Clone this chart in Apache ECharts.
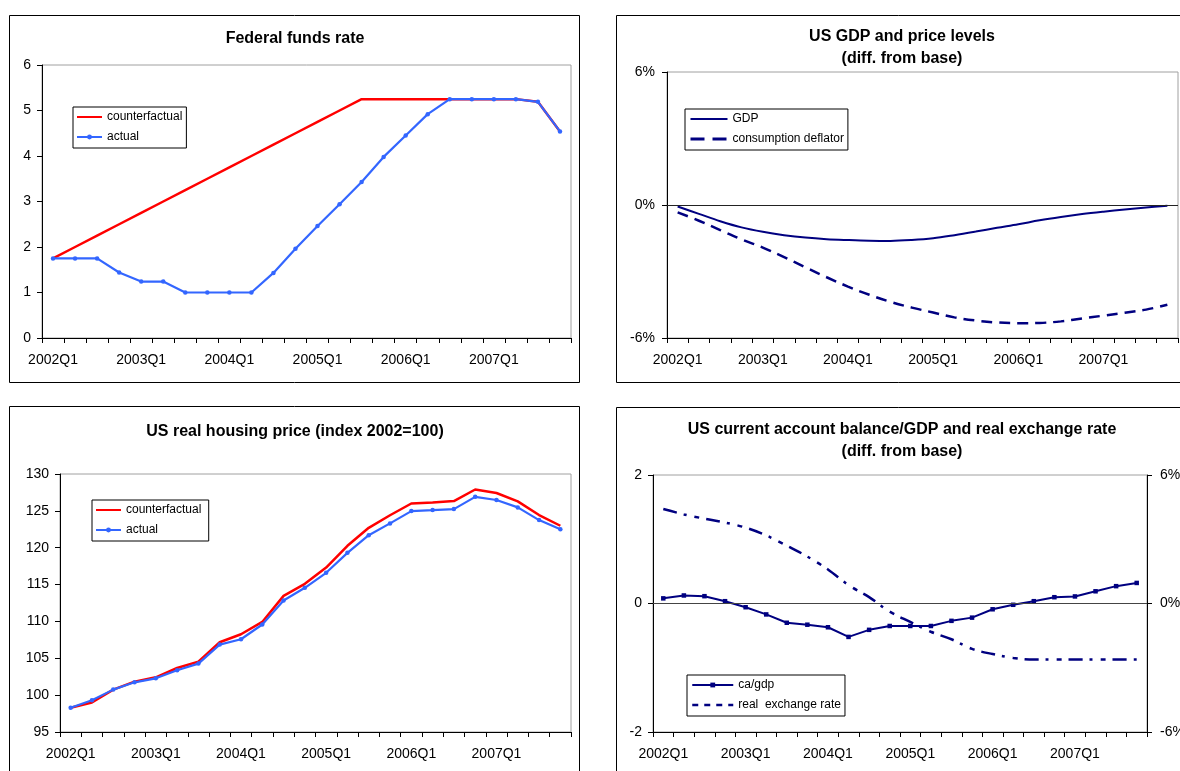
<!DOCTYPE html>
<html>
<head>
<meta charset="utf-8">
<script src="https://cdn.jsdelivr.net/npm/echarts@6/dist/echarts.min.js"></script>
<style>html,body{margin:0;padding:0;background:#fff}#c{width:1180px;height:771px}</style>
</head>
<body>
<div id="c"></div>
<script>
// ---------- data ----------
const quarters = ['2002Q1','2002Q2','2002Q3','2002Q4','2003Q1','2003Q2','2003Q3','2003Q4',
  '2004Q1','2004Q2','2004Q3','2004Q4','2005Q1','2005Q2','2005Q3','2005Q4',
  '2006Q1','2006Q2','2006Q3','2006Q4','2007Q1','2007Q2','2007Q3','2007Q4'];

const fedCounterfactual = [1.75,2.0,2.25,2.5,2.75,3.0,3.25,3.5,3.75,4.0,4.25,4.5,4.75,5.0,5.25,5.25,5.25,5.25,5.25,5.25,5.25,5.25,5.19,4.54];
const fedActual = [1.75,1.75,1.75,1.44,1.24,1.24,1.0,1.0,1.0,1.0,1.43,1.96,2.46,2.94,3.43,3.98,4.45,4.92,5.25,5.25,5.25,5.25,5.19,4.54];

const gdpDiff = [-0.07,-0.40,-0.73,-1.01,-1.21,-1.36,-1.47,-1.54,-1.58,-1.61,-1.62,-1.58,-1.50,-1.36,-1.20,-1.03,-0.87,-0.69,-0.54,-0.41,-0.30,-0.20,-0.11,-0.03];
const deflatorDiff = [-0.33,-0.71,-1.13,-1.55,-1.92,-2.35,-2.81,-3.26,-3.68,-4.05,-4.37,-4.63,-4.85,-5.07,-5.21,-5.30,-5.33,-5.32,-5.25,-5.12,-4.99,-4.86,-4.72,-4.50];

const houseCounterfactual = [98.3,99.0,100.75,101.83,102.42,103.68,104.55,107.17,108.26,109.93,113.47,115.1,117.3,120.26,122.7,124.4,126.0,126.15,126.33,127.9,127.42,126.28,124.43,122.98];
const houseActual = [98.3,99.3,100.75,101.74,102.28,103.37,104.28,106.86,107.58,109.58,112.84,114.56,116.6,119.3,121.7,123.3,124.97,125.1,125.24,126.9,126.47,125.47,123.75,122.5];

const caGdp = [0.08,0.125,0.114,0.036,-0.058,-0.17,-0.30,-0.33,-0.37,-0.52,-0.41,-0.35,-0.35,-0.35,-0.27,-0.22,-0.09,-0.02,0.036,0.098,0.11,0.19,0.27,0.32];
const realExchangeRate = [4.41,4.16,3.96,3.78,3.54,3.18,2.70,2.19,1.59,0.86,0.30,-0.38,-0.86,-1.32,-1.67,-2.12,-2.36,-2.54,-2.62,-2.62,-2.62,-2.62,-2.62,-2.62];

// ---------- styling ----------
const FONT = '"Liberation Sans", Arial, Helvetica, sans-serif';
const RED = '#ff0000', BLUE = '#3366ff', NAVY = '#000080';

function xAx(gi) {
  return {
    type: 'category', gridIndex: gi, data: quarters, boundaryGap: true,
    axisLine: { show: true, onZero: false, lineStyle: { color: '#000', width: 1 } },
    axisTick: { show: true, interval: 0, length: 5, inside: false, lineStyle: { color: '#000', width: 1 } },
    axisLabel: { show: true, interval: 3, margin: 15, color: '#000', fontSize: 14, fontFamily: FONT, hideOverlap: false },
    splitLine: { show: false }, splitArea: { show: false }
  };
}
function yAx(gi, min, max, interval, fmt, pos, margin) {
  return {
    type: 'value', gridIndex: gi, min, max, interval, position: pos || 'left',
    axisLine: { show: true, onZero: false, lineStyle: { color: '#000', width: 1 } },
    axisTick: { show: true, length: 5, inside: false, lineStyle: { color: '#000', width: 1 } },
    axisLabel: { show: true, margin: margin, color: '#000', fontSize: 14, fontFamily: FONT, formatter: fmt || '{value}' },
    splitLine: { show: false }, splitArea: { show: false }
  };
}
const gridBase = { show: true, borderColor: '#a0a0a0', borderWidth: 1, backgroundColor: 'transparent',
  containLabel: false, outerBoundsMode: 'none' };
const titleStyle = { fontSize: 16, fontWeight: 'bold', color: '#000', fontFamily: FONT, lineHeight: 21.5 };
const legendBase = {
  orient: 'vertical', backgroundColor: '#fff', borderColor: '#000', borderWidth: 1,
  itemHeight: 6, itemGap: 6, selectedMode: false,
  textStyle: { fontSize: 12, color: '#000', fontFamily: FONT, lineHeight: 14 }
};
const noMark = { opacity: 0, borderWidth: 0 };
const zeroLine = (c) => ({ silent: true, symbol: 'none', label: { show: false },
  lineStyle: { color: c, type: 'solid', width: 1 }, data: [{ yAxis: 0 }] });

const option = {
  animation: false,
  backgroundColor: '#fff',
  textStyle: { fontFamily: FONT },
  title: [
    { text: 'Federal funds rate', left: 295, top: 28, textAlign: 'center', padding: 0, textStyle: titleStyle },
    { text: 'US GDP and price levels\n(diff. from base)', left: 902, top: 26, textAlign: 'center', padding: 0, textStyle: titleStyle },
    { text: 'US real housing price (index 2002=100)', left: 295, top: 421, textAlign: 'center', padding: 0, textStyle: titleStyle },
    { text: 'US current account balance/GDP and real exchange rate\n(diff. from base)', left: 902, top: 419, textAlign: 'center', padding: 0, textStyle: titleStyle }
  ],
  legend: [
    Object.assign({}, legendBase, { left: 73, top: 107, itemWidth: 25, padding: [3, 4, 4, 3],
      data: [{ name: 'counterfactual', itemStyle: noMark }, { name: 'actual' }] }),
    Object.assign({}, legendBase, { left: 685, top: 109, itemWidth: 37, padding: [3, 4, 4, 4],
      data: [{ name: 'GDP', itemStyle: noMark },
             { name: 'consumption deflator', itemStyle: noMark, lineStyle: { type: [14, 8], width: 3 } }] }),
    Object.assign({}, legendBase, { left: 92, top: 500, itemWidth: 25, padding: [3, 4, 4, 3],
      data: [{ name: 'counterfactual ', itemStyle: noMark }, { name: 'actual ' }] }),
    Object.assign({}, legendBase, { left: 687, top: 675, itemWidth: 41, padding: [3, 4, 4, 4],
      data: [{ name: 'ca/gdp' },
             { name: 'real  exchange rate', itemStyle: noMark, lineStyle: { type: [6, 6], width: 2.5 } }] })
  ],
  grid: [
    Object.assign({}, gridBase, { left: 42, top: 65, width: 529, height: 273 }),
    Object.assign({}, gridBase, { left: 667, top: 72, width: 511, height: 266 }),
    Object.assign({}, gridBase, { left: 60, top: 474, width: 511, height: 258 }),
    Object.assign({}, gridBase, { left: 653, top: 475, width: 494, height: 257 })
  ],
  xAxis: [xAx(0), xAx(1), xAx(2), xAx(3)],
  yAxis: [
    yAx(0, 0, 6, 1, '{value}', 'left', 11),
    yAx(1, -6, 6, 6, '{value}%', 'left', 12),
    yAx(2, 95, 130, 5, '{value}', 'left', 11),
    yAx(3, -2, 2, 2, '{value}', 'left', 11),
    yAx(3, -6, 6, 6, '{value}%', 'right', 13)
  ],
  series: [
    { name: 'counterfactual', type: 'line', xAxisIndex: 0, yAxisIndex: 0, data: fedCounterfactual,
      symbol: 'none', lineStyle: { color: RED, width: 2.5 }, itemStyle: { color: RED } },
    { name: 'actual', type: 'line', xAxisIndex: 0, yAxisIndex: 0, data: fedActual,
      symbol: 'circle', symbolSize: 4.5, showSymbol: true,
      lineStyle: { color: BLUE, width: 2.2 }, itemStyle: { color: BLUE } },

    { name: 'GDP', type: 'line', xAxisIndex: 1, yAxisIndex: 1, data: gdpDiff, smooth: 0.35,
      symbol: 'none', lineStyle: { color: NAVY, width: 2 }, itemStyle: { color: NAVY },
      markLine: zeroLine('#222') },
    { name: 'consumption deflator', type: 'line', xAxisIndex: 1, yAxisIndex: 1, data: deflatorDiff, smooth: 0.35,
      symbol: 'none', lineStyle: { color: NAVY, width: 2.5, type: [11, 7] }, itemStyle: { color: NAVY } },

    { name: 'counterfactual ', type: 'line', xAxisIndex: 2, yAxisIndex: 2, data: houseCounterfactual,
      symbol: 'none', lineStyle: { color: RED, width: 2.5 }, itemStyle: { color: RED } },
    { name: 'actual ', type: 'line', xAxisIndex: 2, yAxisIndex: 2, data: houseActual,
      symbol: 'circle', symbolSize: 4.5, showSymbol: true,
      lineStyle: { color: BLUE, width: 2.2 }, itemStyle: { color: BLUE } },

    { name: 'ca/gdp', type: 'line', xAxisIndex: 3, yAxisIndex: 3, data: caGdp,
      symbol: 'rect', symbolSize: 4.5, showSymbol: true,
      lineStyle: { color: NAVY, width: 2 }, itemStyle: { color: NAVY },
      markLine: zeroLine('#444') },
    { name: 'real  exchange rate', type: 'line', xAxisIndex: 3, yAxisIndex: 4, data: realExchangeRate, smooth: 0.35,
      symbol: 'none', lineStyle: { color: NAVY, width: 2.5, type: [14, 7, 3, 8, 5, 7] }, itemStyle: { color: NAVY } }
  ],
  graphic: [
    { type: 'rect', silent: true, z: 100, shape: { x: 9.5, y: 15.5, width: 570, height: 367 }, style: { fill: 'none', stroke: '#000', lineWidth: 1 } },
    { type: 'rect', silent: true, z: 100, shape: { x: 616.5, y: 15.5, width: 600, height: 367 }, style: { fill: 'none', stroke: '#000', lineWidth: 1 } },
    { type: 'rect', silent: true, z: 100, shape: { x: 9.5, y: 406.5, width: 570, height: 400 }, style: { fill: 'none', stroke: '#000', lineWidth: 1 } },
    { type: 'rect', silent: true, z: 100, shape: { x: 616.5, y: 407.5, width: 600, height: 400 }, style: { fill: 'none', stroke: '#000', lineWidth: 1 } }
  ]
};

const chart = echarts.init(document.getElementById('c'), null, { renderer: 'canvas' });
chart.setOption(option);
</script>
</body>
</html>
